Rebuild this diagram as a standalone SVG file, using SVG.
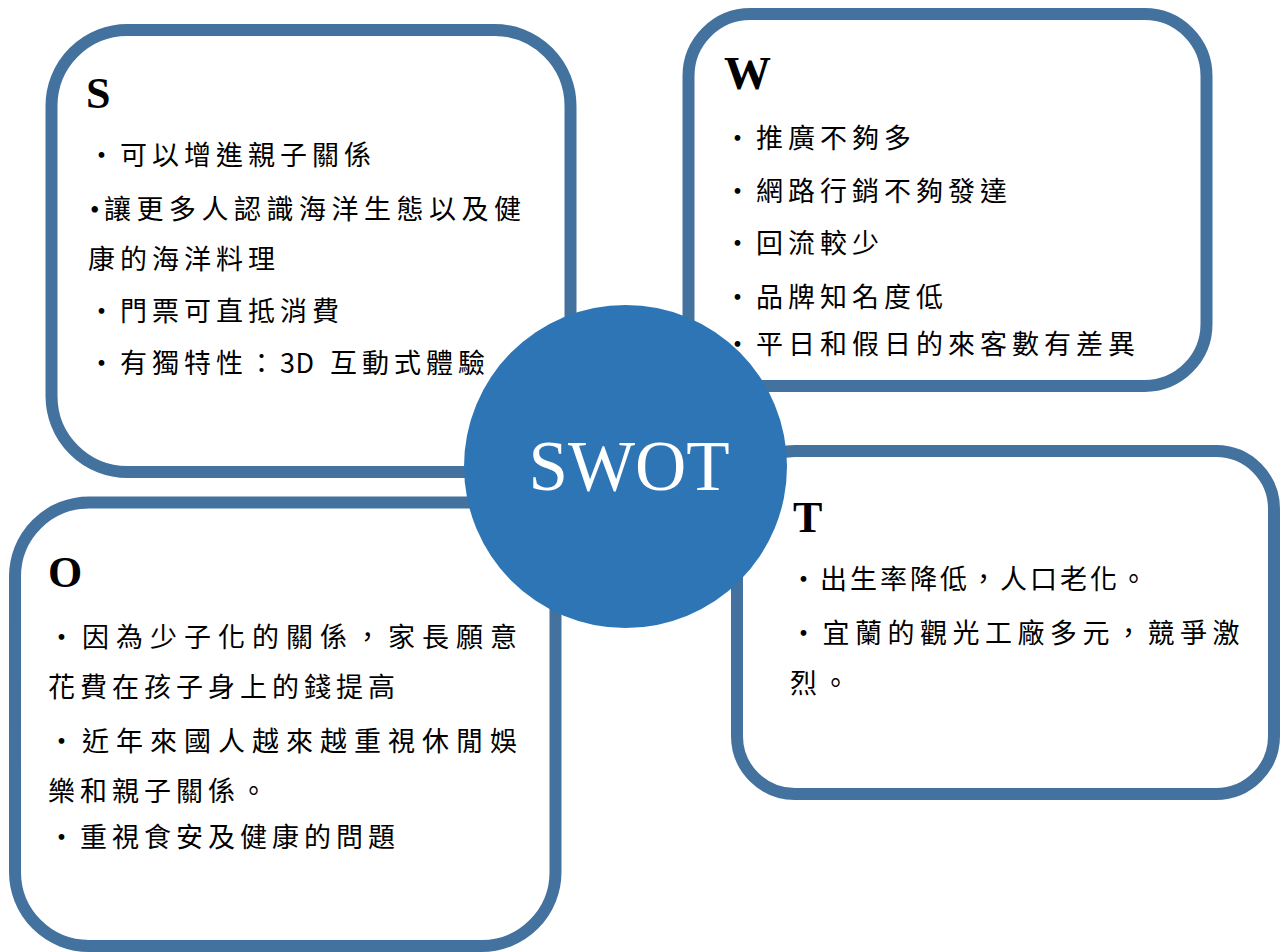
<svg xmlns="http://www.w3.org/2000/svg" width="1285" height="952" viewBox="0 0 1285 952">
<style>
.box{fill:#ffffff;stroke:#44729E;stroke-width:12}
.hd{font-family:"Liberation Serif","Times New Roman",serif;font-weight:bold;fill:#000}
.tx{font-family:"Noto Sans CJK TC","Noto Sans CJK SC",sans-serif;font-size:27px;fill:#000;letter-spacing:5px}
.wide{letter-spacing:7px}
.ctr{font-family:"Liberation Serif","Times New Roman",serif;font-size:71px;fill:#ffffff}
</style>
<rect width="1285" height="952" fill="#ffffff"/>
<g id="node-S">
<rect class="box" x="51.5" y="30" width="519" height="442" rx="76" ry="76"/>
<text class="hd" x="86" y="108" font-size="44">S</text>
<text class="tx" x="88" y="165">・可以增進親子關係</text>
<text class="tx" x="104" y="219" style="letter-spacing:5.5px"><tspan x="90" style="font-family:'Liberation Serif',serif;letter-spacing:0">•</tspan><tspan x="104">讓更多人認識海洋生態以及健</tspan></text>
<text class="tx" x="88" y="269">康的海洋料理</text>
<text class="tx" x="88" y="321">・門票可直抵消費</text>
<text class="tx" x="88" y="373">・有獨特性：<tspan style="letter-spacing:0.5px">3</tspan>D 互動式體驗</text>
</g>
<g id="node-W">
<rect class="box" x="688.5" y="14" width="518" height="372" rx="62" ry="62"/>
<text class="hd" x="724" y="89" font-size="47">W</text>
<text class="tx" x="724" y="148">・推廣不夠多</text>
<text class="tx" x="724" y="201">・網路行銷不夠發達</text>
<text class="tx" x="724" y="253">・回流較少</text>
<text class="tx" x="724" y="307">・品牌知名度低</text>
<text class="tx" x="724" y="354">・平日和假日的來客數有差異</text>
</g>
<g id="node-O">
<rect class="box" x="15" y="502.5" width="540.5" height="443.5" rx="74" ry="74"/>
<text class="hd" x="48" y="587" font-size="44">O</text>
<text class="tx wide" x="48" y="647">・因為少子化的關係，家長願意</text>
<text class="tx" x="48" y="697">花費在孩子身上的錢提高</text>
<text class="tx wide" x="48" y="751">・近年來國人越來越重視休閒娛</text>
<text class="tx" x="48" y="801">樂和親子關係。</text>
<text class="tx" x="48" y="847">・重視食安及健康的問題</text>
</g>
<g id="node-T">
<rect class="box" x="737" y="451" width="537" height="343" rx="58" ry="58"/>
<text class="hd" x="793" y="532" font-size="44">T</text>
<text class="tx" x="790" y="589" style="letter-spacing:3px">・出生率降低，人口老化。</text>
<text class="tx" x="790" y="643" style="letter-spacing:5.5px">・宜蘭的觀光工廠多元，競爭激</text>
<text class="tx" x="790" y="693">烈。</text>
</g>
<g id="connectors"></g>
<g id="node-SWOT">
<circle cx="625.5" cy="466.5" r="161.5" fill="#2E75B6"/>
<text class="ctr" x="629" y="490" text-anchor="middle">SWOT</text>
</g>
</svg>
